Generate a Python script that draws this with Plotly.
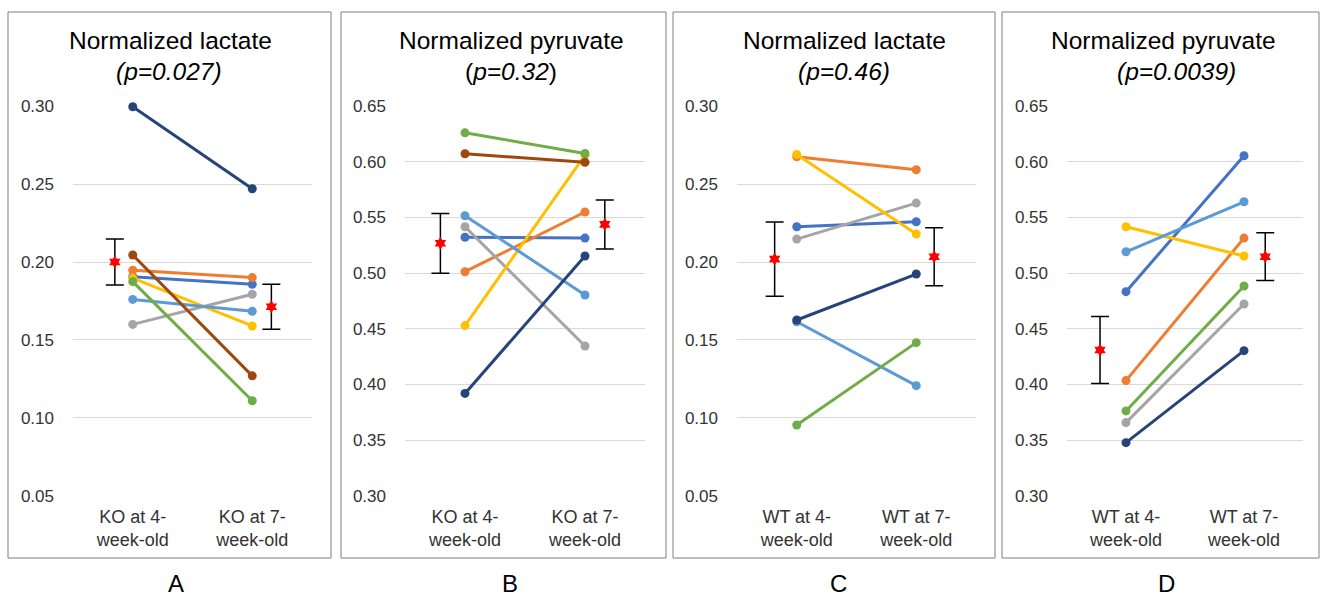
import plotly.graph_objects as go

# ---------------- data ----------------
cats_KO = ["KO at 4-<br>week-old", "KO at 7-<br>week-old"]
cats_WT = ["WT at 4-<br>week-old", "WT at 7-<br>week-old"]

titles = ["Normalized lactate", "Normalized pyruvate", "Normalized lactate", "Normalized pyruvate"]
pvals = ["<i>(p=0.027)</i>", "(<i>p=0.32</i>)", "<i>(p=0.46)</i>", "<i>(p=0.0039)</i>"]
letters = ["A", "B", "C", "D"]

# series order: blue, orange, gray, yellow, light blue, green, navy, brown
A_wk4 = [0.1906, 0.1947, 0.160, 0.1897, 0.176, 0.1874, 0.2996, 0.2045]
A_wk7 = [0.1857, 0.190, 0.1793, 0.159, 0.1684, 0.111, 0.247, 0.127]
A_mean = [0.200, 0.1713]
A_err = [0.0147, 0.0145]

B_wk4 = [0.5322, 0.5013, 0.5417, 0.4529, 0.5516, 0.626, 0.392, 0.6072]
B_wk7 = [0.5315, 0.5549, 0.4346, 0.606, 0.4804, 0.6075, 0.5154, 0.5995]
B_mean = [0.5268, 0.5438]
B_err = [0.0268, 0.022]

C_wk4 = [0.2226, 0.2675, 0.2147, 0.269, 0.1617, 0.0955, 0.1628]
C_wk7 = [0.2258, 0.2592, 0.2378, 0.218, 0.1207, 0.1483, 0.1923]
C_mean = [0.2019, 0.2034]
C_err = [0.0238, 0.0186]

D_wk4 = [0.4834, 0.4035, 0.3658, 0.5417, 0.5192, 0.3763, 0.3478]
D_wk7 = [0.6054, 0.5315, 0.4723, 0.5154, 0.5641, 0.4885, 0.4304]
D_mean = [0.431, 0.5148]
D_err = [0.030, 0.0214]

lactate_ticks = [0.05, 0.10, 0.15, 0.20, 0.25, 0.30]
pyruvate_ticks = [0.30, 0.35, 0.40, 0.45, 0.50, 0.55, 0.60, 0.65]

# ---------------- style ----------------
colors = ["#4472C4", "#ED7D31", "#A5A5A5", "#FFC000", "#5B9BD5", "#70AD47", "#264478", "#9E480E"]
W, H = 1322, 598
FONT = "Liberation Sans, Arial, sans-serif"

panels = [
    dict(cats=cats_KO, w4=A_wk4, w7=A_wk7, mean=A_mean, err=A_err, ticks=lactate_ticks,
         plot=(73, 312), box=(8, 331), tcx=170, pcx=169, lcx=176, off=(-0.15, 0.16)),
    dict(cats=cats_KO, w4=B_wk4, w7=B_wk7, mean=B_mean, err=B_err, ticks=pyruvate_ticks,
         plot=(405, 645), box=(341, 666), tcx=511, pcx=511, lcx=510, off=(-0.205, 0.165)),
    dict(cats=cats_WT, w4=C_wk4, w7=C_wk7, mean=C_mean, err=C_err, ticks=lactate_ticks,
         plot=(737, 976), box=(673, 995), tcx=844, pcx=844, lcx=838, off=(-0.185, 0.15)),
    dict(cats=cats_WT, w4=D_wk4, w7=D_wk7, mean=D_mean, err=D_err, ticks=pyruvate_ticks,
         plot=(1067, 1303), box=(1002, 1319), tcx=1163, pcx=1176, lcx=1166, off=(-0.22, 0.18)),
]

PLOT_TOP, PLOT_BOT = 106, 496
BOX_TOP, BOX_BOT = 12, 558

fig = go.Figure()
layout = dict(width=W, height=H, margin=dict(l=0, r=0, t=0, b=0, autoexpand=False),
              paper_bgcolor="white", plot_bgcolor="white", showlegend=False,
              annotations=[], shapes=[])

for i, p in enumerate(panels):
    n = "" if i == 0 else str(i + 1)
    xa, ya = "x" + n, "y" + n
    for k in range(len(p["w4"])):
        fig.add_trace(go.Scatter(
            x=[0, 1], y=[p["w4"][k], p["w7"][k]], xaxis=xa, yaxis=ya,
            mode="lines+markers", line=dict(color=colors[k], width=3),
            marker=dict(color=colors[k], size=9), cliponaxis=False, hoverinfo="skip"))
    fig.add_trace(go.Scatter(
        x=[0 + p["off"][0], 1 + p["off"][1]], y=p["mean"], xaxis=xa, yaxis=ya,
        mode="markers", marker=dict(symbol="hexagram", color="#FF0000", size=10, line=dict(width=0)),
        error_y=dict(type="data", array=p["err"], color="black", thickness=1.5, width=9),
        cliponaxis=False))
    t = p["ticks"]
    rng = t[-1] - t[0]
    layout["xaxis" + n] = dict(domain=[p["plot"][0] / W, p["plot"][1] / W], anchor=ya,
                               range=[-0.5, 1.5], tickvals=[0, 1], ticktext=p["cats"],
                               showgrid=False, zeroline=False, showline=False, ticks="",
                               ticklabelstandoff=8, automargin=False,
                               tickfont=dict(family=FONT, size=18, color="#333333"),
                               fixedrange=True)
    layout["yaxis" + n] = dict(domain=[1 - PLOT_BOT / H, 1 - PLOT_TOP / H], anchor=xa,
                               range=[t[0] - rng * 0.0003, t[-1] + rng * 0.0003],
                               tickvals=t, ticktext=["%.2f" % v for v in t],
                               showgrid=True, gridcolor="#D9D9D9", gridwidth=1,
                               zeroline=False, showline=False, ticks="",
                               ticklabelstandoff=18, automargin=False,
                               tickfont=dict(family=FONT, size=17, color="#333333"),
                               fixedrange=True)
    layout["annotations"] += [
        dict(text=titles[i], x=p["tcx"] / W, y=1 - 41 / H, xref="paper", yref="paper",
             showarrow=False, xanchor="center", yanchor="middle",
             font=dict(family=FONT, size=24.5, color="#000000")),
        dict(text=pvals[i], x=p["pcx"] / W, y=1 - 71 / H, xref="paper", yref="paper",
             showarrow=False, xanchor="center", yanchor="middle",
             font=dict(family=FONT, size=24.5, color="#000000")),
        dict(text=letters[i], x=p["lcx"] / W, y=0, xref="paper", yref="paper",
             showarrow=False, xanchor="center", yanchor="bottom", borderpad=0,
             font=dict(family=FONT, size=24, color="#000000")),
    ]
    layout["shapes"].append(dict(type="rect", xref="paper", yref="paper",
                                 x0=p["box"][0] / W, x1=p["box"][1] / W,
                                 y0=1 - BOX_BOT / H, y1=1 - BOX_TOP / H,
                                 line=dict(color="#7F7F7F", width=1), fillcolor="rgba(0,0,0,0)"))

fig.update_layout(**layout)
fig.write_html("out.html", config={"displayModeBar": False},
               post_script="document.body.style.margin='0';document.body.style.overflow='hidden';")
